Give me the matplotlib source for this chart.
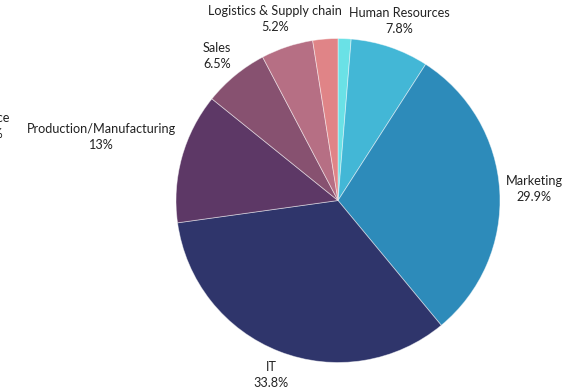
import matplotlib
matplotlib.use("Agg")
import matplotlib.pyplot as plt

# Department share of the total
categories = ["Admin", "Human Resources", "Marketing", "IT",
              "Production/Manufacturing", "Sales",
              "Logistics & Supply chain", "Finance"]
values = [1.3, 7.8, 29.9, 33.8, 13.0, 6.5, 5.2, 2.5]
colors = ["#6ae1e6", "#43b7d6", "#2d8bba", "#2f356b",
          "#5d3866", "#875170", "#b66f84", "#e08487"]

# Label text blocks (name / percentage) and where each block sits
label_pos = {
    "Human Resources": (399, 371),
    "Marketing": (534, 203),
    "IT": (271, 17),
    "Production/Manufacturing": (101, 255),
    "Sales": (217, 336),
    "Logistics & Supply chain": (275, 373),
    "Finance": (-11, 266),
}

plt.rcParams["font.family"] = ["Lato", "DejaVu Sans"]

W, H = 577, 392
fig = plt.figure(figsize=(W / 100, H / 100), dpi=100)
ax = fig.add_axes([0, 0, 1, 1])

ax.pie(values, colors=colors, startangle=90, counterclock=False,
       center=(338, 191.5), radius=162,
       wedgeprops=dict(edgecolor=(1, 1, 1, 0.5), linewidth=0.6))

ax.set_xlim(0, W)
ax.set_ylim(0, H)
ax.set_aspect("equal")
ax.axis("off")

for name, val in zip(categories, values):
    if name not in label_pos:
        continue
    x, y = label_pos[name]
    ax.text(x, y, f"{name}\n{val:g}%", ha="center", va="center",
            fontsize=9.1, color="#222222", linespacing=1.4)

fig.savefig("out.png", dpi=100)
